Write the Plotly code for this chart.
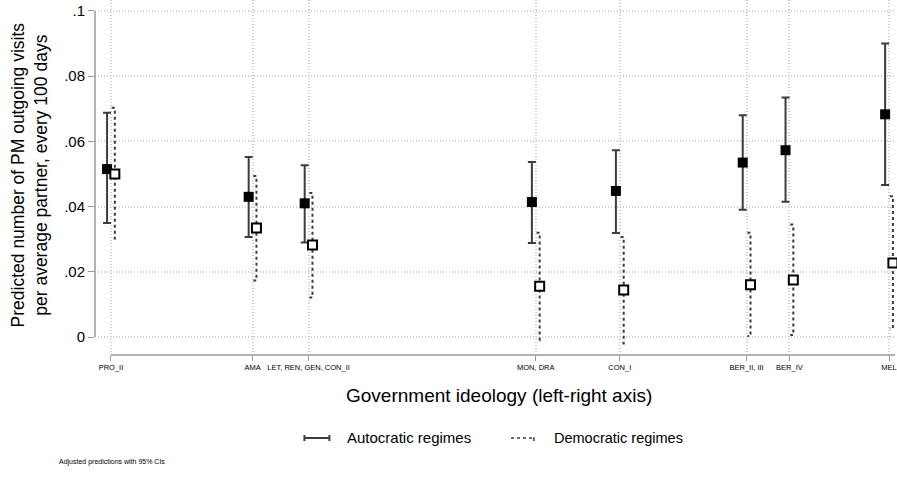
import plotly.graph_objects as go

categories = ["PRO_II", "AMA", "LET, REN, GEN, CON_II", "MON, DRA", "CON_I", "BER_II, III", "BER_IV", "MEL"]
ideology = [0.0, 1.82, 2.54, 5.46, 6.54, 8.17, 8.72, 10.0]

auto_est = [0.0515, 0.0430, 0.0410, 0.0414, 0.0448, 0.0535, 0.0573, 0.0683]
auto_lo = [0.0350, 0.0307, 0.0290, 0.0288, 0.0319, 0.0390, 0.0415, 0.0466]
auto_hi = [0.0688, 0.0552, 0.0527, 0.0537, 0.0573, 0.0680, 0.0735, 0.0900]

dem_est = [0.0500, 0.0334, 0.0282, 0.0156, 0.0144, 0.0160, 0.0175, 0.0227]
dem_lo = [0.0302, 0.0173, 0.0121, -0.0010, -0.0020, 0.0003, 0.0006, 0.0026]
dem_hi = [0.0703, 0.0494, 0.0442, 0.0320, 0.0307, 0.0320, 0.0345, 0.0432]

y_ticks = [0, 0.02, 0.04, 0.06, 0.08, 0.1]
y_labels = ["0", ".02", ".04", ".06", ".08", ".1"]

off = 0.05   # horizontal dodge between series (x units)
cap = 0.04   # dashed cap length

FONT = "Liberation Sans, Arial, sans-serif"
BAR = "#3c3c3c"
GRID = "#cfcfcf"
AXIS = "#9a9a9a"
XMAX = 10.077

fig = go.Figure()

ax = [x - off for x in ideology]
dx = [x + off for x in ideology]

# autocratic: solid error bars + filled squares
fig.add_trace(go.Scatter(
    x=ax, y=auto_est, mode="markers",
    marker=dict(symbol="square", size=10, color="black"),
    error_y=dict(type="data", symmetric=False,
                 array=[h - e for h, e in zip(auto_hi, auto_est)],
                 arrayminus=[e - l for e, l in zip(auto_est, auto_lo)],
                 color=BAR, thickness=2, width=4),
    showlegend=False, hoverinfo="skip", cliponaxis=False))

# democratic: dashed CI lines with small caps
px, py = [], []
for x, lo, hi in zip(dx, dem_lo, dem_hi):
    px += [x - cap, x, x, x - cap, None]
    py += [hi, hi, lo, lo, None]
fig.add_trace(go.Scatter(x=px, y=py, mode="lines",
                         line=dict(color=BAR, width=2, dash="3px,3px"),
                         showlegend=False, hoverinfo="skip"))
fig.add_trace(go.Scatter(
    x=dx, y=dem_est, mode="markers",
    marker=dict(symbol="square", size=9, color="white", line=dict(color="black", width=2)),
    showlegend=False, hoverinfo="skip", cliponaxis=False))

shapes = [
    # axis lines (Stata style)
    dict(type="line", xref="paper", yref="y", x0=0, x1=0, y0=0, y1=0.1,
         line=dict(color=AXIS, width=1.5)),
    dict(type="line", xref="x", yref="paper", x0=ideology[0], x1=XMAX, y0=0, y1=0,
         line=dict(color=AXIS, width=1.5)),
]

# manual legend keys
LY = -0.2338
CAPH = 0.0085
shapes += [
    dict(type="line", xref="paper", yref="paper", x0=0.2618, x1=0.293, y0=LY, y1=LY,
         line=dict(color=BAR, width=2)),
    dict(type="line", xref="paper", yref="paper", x0=0.2618, x1=0.2618, y0=LY - CAPH, y1=LY + CAPH,
         line=dict(color=BAR, width=2)),
    dict(type="line", xref="paper", yref="paper", x0=0.293, x1=0.293, y0=LY - CAPH, y1=LY + CAPH,
         line=dict(color=BAR, width=2)),
    dict(type="line", xref="paper", yref="paper", x0=0.520, x1=0.5486, y0=LY, y1=LY,
         line=dict(color=BAR, width=1.5, dash="3px,3px")),
    dict(type="line", xref="paper", yref="paper", x0=0.5486, x1=0.5486, y0=LY - CAPH, y1=LY + 0.002,
         line=dict(color=BAR, width=1.5)),
]

fig.update_layout(
    width=897, height=479,
    margin=dict(l=95, r=0, t=0, b=124),
    plot_bgcolor="white", paper_bgcolor="white",
    font=dict(family=FONT, color="black"),
    xaxis=dict(range=[-0.205, XMAX], tickvals=ideology, ticktext=categories,
               tickfont=dict(size=7.5), ticks="outside", ticklen=5, tickcolor=AXIS,
               ticklabeloverflow="allow",
               showgrid=True, gridcolor=GRID, griddash="1px,2px", gridwidth=1.5,
               zeroline=False, showline=False),
    yaxis=dict(range=[-0.00552, 0.10337], tickvals=y_ticks, ticktext=y_labels,
               tickfont=dict(size=15), ticks="outside", ticklen=6, tickcolor=AXIS,
               ticklabeloverflow="allow",
               showgrid=True, gridcolor=GRID, griddash="1px,2px", gridwidth=1.5,
               zeroline=False, showline=False),
    showlegend=False,
    shapes=shapes,
    annotations=[
        dict(text="Predicted number of PM outgoing visits<br>per average partner, every 100 days",
             xref="paper", yref="paper", x=-0.082, y=0.507, xanchor="center", yanchor="middle",
             textangle=-90, showarrow=False, font=dict(size=17.5)),
        dict(text="Government ideology (left-right axis)", xref="paper", yref="paper",
             x=0.505, y=-0.1127, xanchor="center", yanchor="middle", showarrow=False,
             font=dict(size=19)),
        dict(text="Autocratic regimes", xref="paper", yref="paper", x=0.313, y=LY,
             xanchor="left", yanchor="middle", showarrow=False, font=dict(size=15)),
        dict(text="Democratic regimes", xref="paper", yref="paper", x=0.571, y=LY,
             xanchor="left", yanchor="middle", showarrow=False, font=dict(size=14.5)),
        dict(text="Adjusted predictions with 95% CIs", xref="paper", yref="paper",
             x=-0.048, y=-0.3014, xanchor="left", yanchor="middle", showarrow=False,
             font=dict(size=7)),
    ],
)

fig.write_html("out.html", config={"displayModeBar": False},
               post_script="document.body.style.margin='0px';")
